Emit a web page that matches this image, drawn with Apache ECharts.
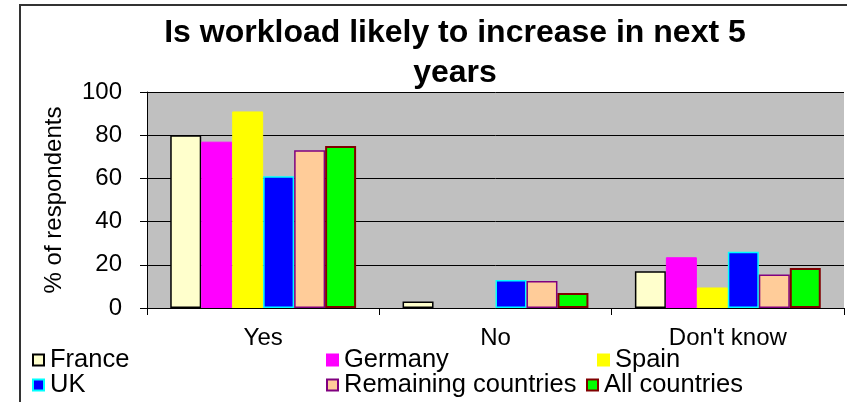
<!DOCTYPE html>
<html>
<head>
<meta charset="utf-8">
<script src="https://cdn.jsdelivr.net/npm/echarts@6/dist/echarts.min.js"></script>
<style>
html,body{margin:0;padding:0;background:#fff;}
#chart{width:847px;height:402px;}
</style>
</head>
<body>
<div id="chart"></div>
<script>
const titleText = "Is workload likely to increase in next 5\nyears";
const categories = ["Yes", "No", "Don't know"];
const yTicks = [0, 20, 40, 60, 80, 100];
const seriesNames = ["France", "Germany", "Spain", "UK", "Remaining countries", "All countries"];
const france = [80, 3, 17];
const germany = [77, 0, 23.5];
const spain = [91, 0, 9.5];
const uk = [61, 13, 26];
const remaining = [73, 12.5, 15.5];
const allCountries = [75, 7, 18.5];

const seriesValues = [france, germany, spain, uk, remaining, allCountries];
const fills = ['#ffffcc', '#ff00ff', '#ffff00', '#0000ff', '#ffcc99', '#00ff00'];
const borders = ['#000000', '#ff00ff', '#ffff00', '#00ffff', '#800080', '#800000'];
const borderW = [1.5, 1, 1, 1.5, 1.5, 2];
const FONT = "'Liberation Sans', Arial, sans-serif";

const legendPos = [
  {left: 32, top: 346}, {left: 326, top: 346}, {left: 597, top: 346},
  {left: 32, top: 371}, {left: 326, top: 371}, {left: 586, top: 371}
];

const chart = echarts.init(document.getElementById('chart'), null, {renderer: 'canvas'});
const option = {
  animation: false,
  backgroundColor: '#ffffff',
  title: {
    text: titleText,
    left: 455, top: 13,
    textAlign: 'center',
    padding: 0,
    textStyle: {fontFamily: FONT, fontWeight: 'bold', fontSize: 32, lineHeight: 40, color: '#000'}
  },
  legend: seriesNames.map((n, i) => ({
    data: [n],
    left: legendPos[i].left, top: legendPos[i].top,
    padding: 0,
    itemWidth: 11, itemHeight: 11,
    itemGap: 0,
    icon: 'rect',
    textStyle: {fontFamily: FONT, fontSize: 25.5, lineHeight: 28, color: '#000', padding: [0,0,0,1]},
    selectedMode: false
  })),
  grid: {
    left: 147, top: 92, right: 3, bottom: 94,
    show: true, backgroundColor: '#c0c0c0', borderWidth: 0,
    containLabel: false
  },
  xAxis: {
    type: 'category',
    data: categories,
    axisLine: {show: true, lineStyle: {color: '#000', width: 1}},
    axisTick: {show: true, length: 7, alignWithLabel: false, lineStyle: {color: '#000'}},
    axisLabel: {fontFamily: FONT, fontSize: 24, color: '#000', margin: 18},
    splitLine: {show: false}
  },
  yAxis: {
    type: 'value',
    min: yTicks[0], max: yTicks[yTicks.length - 1], interval: yTicks[1] - yTicks[0],
    name: '% of respondents',
    nameLocation: 'middle',
    nameGap: 81,
    nameTextStyle: {fontFamily: FONT, fontSize: 24, color: '#000'},
    axisLine: {show: true, lineStyle: {color: '#000', width: 1}},
    axisTick: {show: true, length: 7, lineStyle: {color: '#000'}},
    axisLabel: {fontFamily: FONT, fontSize: 24, color: '#000', margin: 25},
    splitLine: {show: true, lineStyle: {color: '#000', width: 1}}
  },
  graphic: [{
    type: 'rect',
    shape: {x: 20, y: 5, width: 900, height: 500},
    style: {fill: 'none', stroke: '#333', lineWidth: 2},
    silent: true, z: 100
  }],
  series: seriesNames.map((n, i) => ({
    name: n,
    type: 'bar',
    data: seriesValues[i].map(v => v === 0 ? {value: 0, itemStyle: {borderWidth: 0, opacity: 0}} : v),
    barGap: '0%',
    barCategoryGap: '20%',
    itemStyle: {color: fills[i], borderColor: borders[i], borderWidth: borderW[i]}
  }))
};
chart.setOption(option);
</script>
</body>
</html>
